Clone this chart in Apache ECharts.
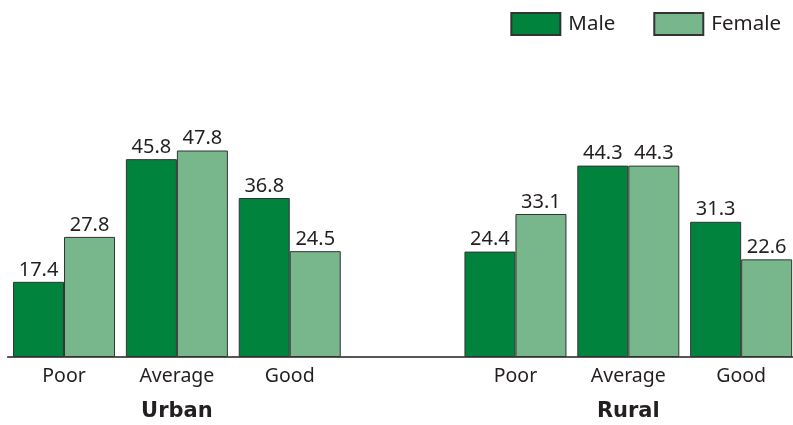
<!DOCTYPE html>
<html><head><meta charset="utf-8">
<script src="https://cdn.jsdelivr.net/npm/echarts@6/dist/echarts.min.js"></script>
<style>html,body{margin:0;padding:0;background:#fff;overflow:hidden}#c{width:800px;height:425px}</style>
</head><body><div id="c"></div>
<script>
const categories = ['Poor','Average','Good','','Poor','Average','Good'];
const groups = ['','Urban','','','','Rural',''];
const male = [17.4, 45.8, 36.8, null, 24.4, 44.3, 31.3];
const female = [27.8, 47.8, 24.5, null, 33.1, 44.3, 22.6];
const seriesNames = ['Male','Female'];
const colors = ['#00843d','#78b68c'];
const font = 'Noto Sans';
const chart = echarts.init(document.getElementById('c'));
const lbl = {show:true, position:'top', distance:2, color:'#231f20', fontSize:20, fontFamily:font,
  formatter: p => p.value.toFixed(1)};
chart.setOption({
  animation:false,
  legend:{top:12, right:19, padding:0, icon:'rect', itemWidth:49, itemHeight:22, itemGap:38,
    textStyle:{fontSize:20.5, fontFamily:font, color:'#231f20', padding:[0,0,0,3]},
    data:seriesNames},
  grid:{left:7.6, right:2.4, top:97.8, bottom:68, containLabel:false},
  xAxis:[{type:'category', data:categories, axisTick:{show:false},
     axisLine:{lineStyle:{color:'#231f20', width:1.5}},
     axisLabel:{fontSize:19.5, fontFamily:font, color:'#231f20', margin:9}},
    {type:'category', data:groups, position:'bottom', offset:36, axisTick:{show:false},
     axisLine:{show:false},
     axisLabel:{fontSize:21, fontWeight:'bold', fontFamily:'DejaVu Sans', color:'#231f20', margin:8}}],
  yAxis:{type:'value', min:0, max:60, show:false},
  series:[
    {name:seriesNames[0], type:'bar', data:male, barWidth:51, barGap:'0%',
     itemStyle:{color:colors[0], borderColor:'#333', borderWidth:1}, label:lbl},
    {name:seriesNames[1], type:'bar', data:female, barWidth:51, barGap:'0%',
     itemStyle:{color:colors[1], borderColor:'#333', borderWidth:1}, label:lbl}
  ]
});
</script></body></html>
